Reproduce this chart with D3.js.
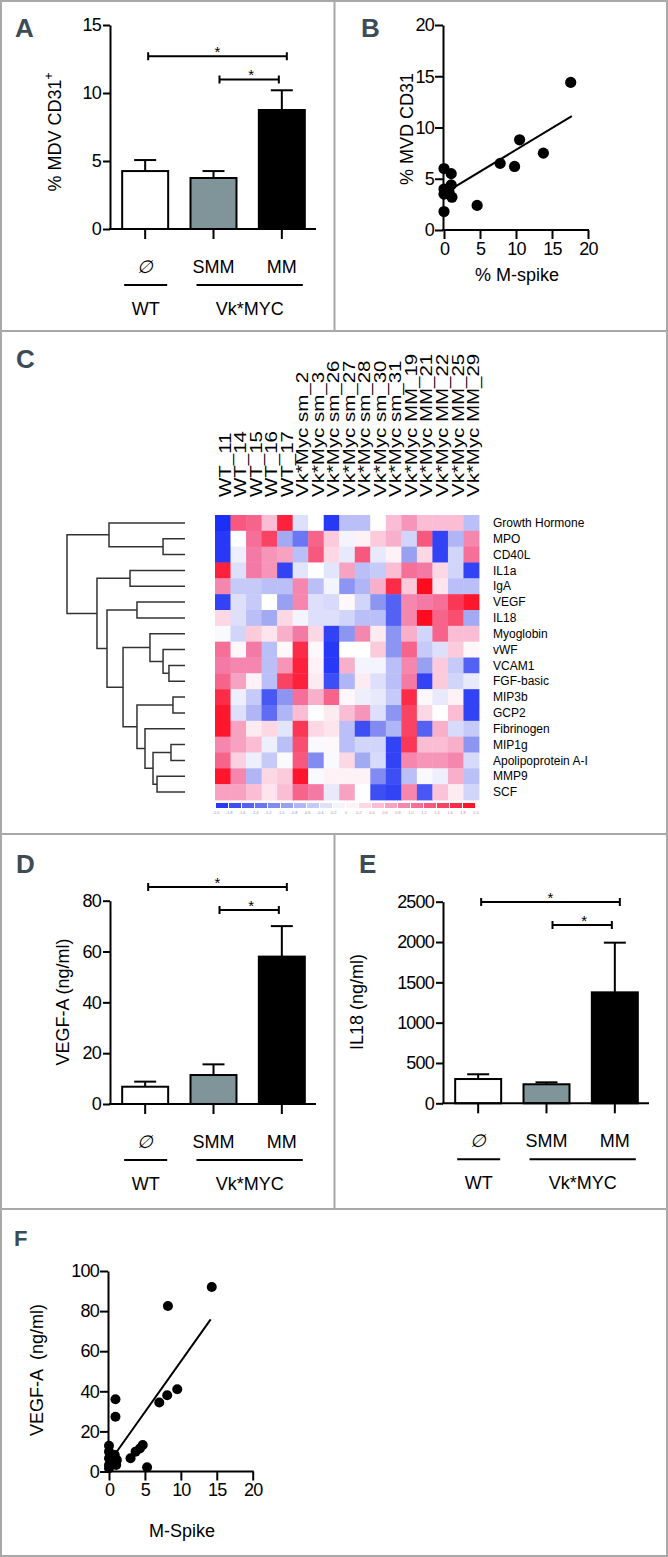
<!DOCTYPE html>
<html><head><meta charset="utf-8">
<script src="https://cdn.jsdelivr.net/npm/d3@7"></script>
<style>body{margin:0;background:#fff}svg{display:block}text{font-family:'Liberation Sans',Arial,Helvetica,sans-serif}</style>
</head><body><svg id="c" width="668" height="1557"></svg>
<script>
// ---------------- DATA ----------------
const groups = ["WT", "SMM", "MM"];
const groupSymbols = ["\u2205", "SMM", "MM"];
const genotypes = ["WT", "Vk*MYC"];
const barFills = ["#ffffff", "#7f9599", "#000000"];

// Panel A: % MDV CD31+
const mvdMean = [4.26, 3.75, 8.75];
const mvdSem  = [0.81, 0.51, 1.45];
const mvdTicks = [0, 5, 10, 15];
const mvdBrackets = [12.7, 11.0];

// Panel B: % M-spike vs % MVD CD31
const bSpike = [0, 0, 0, 0, 1.0, 1.0, 0.7, 1.1, 4.6, 7.8, 9.8, 10.5, 13.8, 17.6];
const bMvd   = [6.0, 4.0, 3.5, 1.8, 5.5, 4.4, 3.7, 3.2, 2.4, 6.5, 6.2, 8.8, 7.5, 14.4];
const bFitX = [1.15, 17.75];
const bFitY = [4.07, 11.1];
const bTicks = [0, 5, 10, 15, 20];

// Panel C: heatmap
const sampleLabels = ["WT_11","WT_14","WT_15","WT_16","WT_17",
  "Vk*Myc sm_2","Vk*Myc sm_3","Vk*Myc sm_26","Vk*Myc sm_27","Vk*Myc sm_28","Vk*Myc sm_30","Vk*Myc sm_31",
  "Vk*Myc MM_19","Vk*Myc MM_21","Vk*Myc MM_22","Vk*Myc MM_25","Vk*Myc MM_29"];
const analyteLabels = ["Growth Hormone","MPO","CD40L","IL1a","IgA","VEGF","IL18","Myoglobin","vWF","VCAM1",
  "FGF-basic","MIP3b","GCP2","Fibrinogen","MIP1g","Apolipoprotein A-I","MMP9","SCF"];
const heatValues = [
  [-2.0, 1.3, 1.2, 0.5, 1.8, -0.3, 0.0, -1.9, -0.6, -0.6, 0.0, 0.5, 0.8, 0.5, 0.5, 0.5, -0.6],
  [-1.9, 0.0, 1.1, 1.5, -0.8, -1.3, 1.2, 0.4, -0.1, 0.1, 0.4, 0.6, -0.4, 1.3, -1.8, -0.7, 0.9],
  [-1.9, -0.15, 1.0, 0.8, 0.7, -0.6, 1.3, 0.3, -0.2, 1.3, -0.2, 0.1, -0.9, 0.3, -1.8, -0.4, 1.1],
  [1.8, -0.3, 1.0, 0.8, -1.8, -0.25, 0.0, -0.25, 0.7, -0.6, -0.5, 0.5, 1.1, 1.0, 0.3, -0.4, -1.8],
  [0.9, -0.5, -0.5, -0.6, -0.6, 0.9, -0.6, -0.1, -1.0, -0.7, 0.6, 1.7, 0.4, 2.0, 0.2, -0.6, -0.6],
  [-1.8, -0.3, -0.5, 0.0, -0.9, 0.9, -0.3, -0.35, 0.05, -0.4, -1.0, -1.5, 0.9, 1.0, 1.1, 1.6, 1.9],
  [0.3, -0.3, -0.6, -0.8, 0.3, -0.1, -0.3, -0.3, -0.4, -0.6, -0.6, -1.5, 0.9, 2.0, 1.2, 1.4, -0.8],
  [-0.05, -0.4, 0.4, 0.2, 0.6, 1.0, 0.3, -1.8, -1.0, 0.9, 0.15, -1.0, 0.6, -0.4, 1.2, 0.5, 0.5],
  [1.1, 0.05, 1.0, -0.6, 0.05, 1.7, 0.05, -1.9, 0.0, 0.0, 0.4, -1.0, 1.2, -0.5, -0.3, 0.4, 0.05],
  [1.0, 0.9, 0.9, -0.6, 0.8, 1.8, 0.1, -1.9, 0.6, -0.1, -0.1, -0.6, 0.9, -0.9, 0.4, -0.5, -1.5],
  [1.2, 0.7, 0.1, -0.6, 1.5, 1.8, 0.15, -1.7, -0.7, 0.15, -0.3, -0.6, 1.0, -1.8, 0.4, -0.4, -0.2],
  [1.7, -0.15, -0.5, -1.6, -1.0, 1.1, 0.6, 1.2, 0.05, -0.15, -0.2, -0.5, 1.7, 0.05, -0.2, 0.1, -1.8],
  [1.9, -0.3, -0.7, -1.4, -0.7, 0.5, 0.0, 0.15, 0.5, 0.8, -0.3, -1.0, 1.5, 0.3, 0.0, 0.5, -1.8],
  [1.9, 0.7, 0.15, 0.3, -0.25, 1.6, 0.3, 0.2, -0.6, -1.7, -1.1, -0.7, 1.5, -1.5, 0.6, -0.35, -0.5],
  [0.9, 0.7, 0.5, -0.15, -0.6, 1.4, -0.05, 0.05, -0.6, -0.4, -0.4, -1.8, 1.6, 0.5, 0.5, 0.6, -1.0],
  [1.2, 0.35, -0.15, -0.5, -0.05, 1.3, -1.1, -0.05, 0.3, -0.8, -0.35, -1.8, 0.9, 0.8, 0.8, 0.9, -0.35],
  [1.9, 0.9, -0.7, 0.3, 0.4, 1.9, -0.05, 0.1, 0.1, 0.1, -1.1, -1.7, -0.6, -0.05, -0.15, 0.6, -0.6],
  [0.7, 0.7, 0.5, 0.2, 0.5, 1.2, 1.0, -0.2, 0.7, 0.0, -1.7, -1.8, 0.9, -1.6, 0.45, 0.15, -0.4]
];
// dendrogram merges: [left, right, height]; strings = leaves, numbers = earlier merge index
const merges = [
  ["MPO", "CD40L", 0.186],
  ["VCAM1", "FGF-basic", 0.136],
  ["vWF", 1, 0.186],
  ["Myoglobin", 2, 0.297],
  ["MIP3b", "GCP2", 0.102],
  ["MIP1g", "Apolipoprotein A-I", 0.119],
  ["MMP9", "SCF", 0.237],
  [5, 6, 0.271],
  ["Fibrinogen", 7, 0.339],
  [4, 8, 0.407],
  [3, 9, 0.525],
  ["VEGF", "IL18", 0.407],
  [11, 10, 0.661],
  ["IL1a", "IgA", 0.466],
  [13, 12, 0.746],
  ["Growth Hormone", 0, 0.644],
  [15, 14, 1.0]
];
const legendTicks = ["-2.0","-1.8","-1.6","-1.4","-1.2","-1.0","-0.8","-0.6","-0.4","-0.2","0",
  "0.2","0.4","0.6","0.8","1.0","1.2","1.4","1.6","1.8","2.0"];

// Panel D: VEGF-A
const vegfMean = [6.8, 11.4, 58.0];
const vegfSem  = [2.0, 4.2, 12.0];
const vegfTicks = [0, 20, 40, 60, 80];
const vegfBrackets = [85.4, 76.3];

// Panel E: IL18
const il18Mean = [301, 236, 1376];
const il18Sem  = [59, 24, 616];
const il18Ticks = [0, 500, 1000, 1500, 2000, 2500];
const il18Brackets = [2496, 2211];

// Panel F: M-Spike vs VEGF-A
const fSpike = [14.3, 8.2, 0.9, 0.9, 7.0, 8.1, 9.5, 0, 0, 0, 0, 0, 0.8, 1.1, 1.0, 3.0, 3.7, 4.3, 4.7, 5.3];
const fVegf  = [92, 82.5, 36, 27.3, 34.4, 38, 41, 12.8, 9.9, 6.6, 3.2, 1.6, 8.2, 5.7, 3.2, 6.6, 9.9, 11.5, 13.2, 2.1];
const fFitX = [0.9, 14.15];
const fFitY = [9.0, 75.9];
const fXTicks = [0, 5, 10, 15, 20];
const fYTicks = [0, 20, 40, 60, 80, 100];

// ---------------- DRAW ----------------
const svg = d3.select("#c");
const BORDER = "#a8a8a8";
const LETTER = "#3c4c57";
const TICKFS = 18, TITLEFS = 18;

svg.append("rect").attr("x", 1).attr("y", 1).attr("width", 666).attr("height", 1555)
  .attr("fill", "none").attr("stroke", BORDER).attr("stroke-width", 2);
[[0, 331, 668, 331], [0, 834, 668, 834], [0, 1209, 668, 1209], [334.5, 0, 334.5, 331], [334.5, 834, 334.5, 1209]]
  .forEach(l => svg.append("line").attr("x1", l[0]).attr("y1", l[1]).attr("x2", l[2]).attr("y2", l[3])
    .attr("stroke", BORDER).attr("stroke-width", 2));

function letter(t, x, y, fs) {
  svg.append("text").attr("x", x).attr("y", y).text(t).attr("font-size", fs)
    .attr("font-weight", "bold").attr("fill", LETTER);
}
letter("A", 15, 37, 26); letter("B", 361, 37, 26); letter("C", 16, 368, 26);
letter("D", 16, 873, 26); letter("E", 359, 873, 26); letter("F", 14, 1246, 22);

function styleAxis(g, fs) {
  g.select(".domain").attr("stroke", "#000").attr("stroke-width", 2);
  g.selectAll(".tick line").attr("stroke", "#000").attr("stroke-width", 2);
  g.selectAll(".tick text").attr("font-size", fs).attr("fill", "#000")
    .attr("font-family", "'Liberation Sans',Arial,sans-serif").attr("letter-spacing", "-0.8px");
}

function yTitle(x, y, fs, build) {
  const t = svg.append("text").attr("transform", `translate(${x},${y}) rotate(-90)`)
    .attr("text-anchor", "middle").attr("dy", "0.35em").attr("font-size", fs).attr("fill", "#000");
  build(t);
}

function barChart(o) {
  const g = svg.append("g");
  const x = d3.scaleBand().domain(groups).range([o.xr0, o.xr1]).paddingInner(0.327).paddingOuter(0.1635);
  const y = d3.scaleLinear().domain([0, o.max]).range([o.yb, o.yt]);
  const cx = d => x(d) + x.bandwidth() / 2;
  groups.forEach((gname, i) => {
    const c = cx(gname), top = y(o.means[i] + o.sems[i]);
    g.append("line").attr("x1", c).attr("x2", c).attr("y1", y(o.means[i])).attr("y2", top)
      .attr("stroke", "#000").attr("stroke-width", 2);
    g.append("line").attr("x1", c - 11).attr("x2", c + 11).attr("y1", top).attr("y2", top)
      .attr("stroke", "#000").attr("stroke-width", 2);
  });
  g.selectAll("rect.bar").data(groups).join("rect").attr("class", "bar")
    .attr("x", d => x(d)).attr("width", x.bandwidth())
    .attr("y", (d, i) => y(o.means[i])).attr("height", (d, i) => y(0) - y(o.means[i]))
    .attr("fill", (d, i) => barFills[i]).attr("stroke", "#000").attr("stroke-width", 2);
  const ya = g.append("g").attr("transform", `translate(${o.xr0 - 1},0)`)
    .call(d3.axisLeft(y).tickValues(o.ticks).tickFormat(d3.format("d")).tickSize(7).tickPadding(2).tickSizeOuter(0));
  styleAxis(ya, TICKFS);
  const xa = g.append("g").attr("transform", `translate(0,${o.yb})`)
    .call(d3.axisBottom(x).tickSize(10).tickFormat("").tickSizeOuter(0));
  styleAxis(xa, TICKFS);
  xa.select(".domain").attr("d", `M${o.xr0 - 2},0H${o.xr1}`);
  const br = [[cx("WT") + 3, cx("MM") + 5], [cx("SMM") + 6, cx("MM") - 3]];
  o.brackets.forEach((v, i) => {
    const yy = y(v), [a, b] = br[i];
    g.append("path").attr("d", `M${a},${yy - 4}V${yy + 4}M${a},${yy}H${b}M${b},${yy - 4}V${yy + 4}`)
      .attr("stroke", "#000").attr("stroke-width", 2).attr("fill", "none");
    g.append("text").attr("x", (a + b) / 2 + (i ? 2 : 0)).attr("y", yy + 1).attr("text-anchor", "middle")
      .attr("font-size", 15).text("*");
  });
  groups.forEach((gname, i) => {
    g.append("text").attr("x", cx(gname)).attr("y", o.yb + 44).attr("text-anchor", "middle")
      .attr("font-size", 18).attr("font-style", i === 0 ? "italic" : "normal").text(groupSymbols[i]);
  });
  const ul = [[cx("WT") - 21, cx("WT") + 22], [cx("SMM") - 17, cx("MM") + 21]];
  ul.forEach((u, i) => {
    g.append("line").attr("x1", u[0]).attr("x2", u[1]).attr("y1", o.yb + 56).attr("y2", o.yb + 56)
      .attr("stroke", "#000").attr("stroke-width", 2);
    g.append("text").attr("x", (u[0] + u[1]) / 2).attr("y", o.yb + 86).attr("text-anchor", "middle")
      .attr("font-size", 18).text(genotypes[i]);
  });
}

barChart({xr0: 111, xr1: 316, yb: 229, yt: 25, max: 15, ticks: mvdTicks, means: mvdMean, sems: mvdSem, brackets: mvdBrackets});
yTitle(55, 132, TITLEFS, t => { t.append("tspan").text("% MDV CD31"); t.append("tspan").attr("font-size", 12).attr("dy", "-0.7em").text("+"); });

barChart({xr0: 111, xr1: 316, yb: 1104, yt: 900.7, max: 80, ticks: vegfTicks, means: vegfMean, sems: vegfSem, brackets: vegfBrackets});
yTitle(63, 1002, TITLEFS, t => t.text("VEGF-A (ng/ml)"));

barChart({xr0: 444, xr1: 649, yb: 1103.3, yt: 901.7, max: 2500, ticks: il18Ticks, means: il18Mean, sems: il18Sem, brackets: il18Brackets});
yTitle(357, 1002, TITLEFS, t => t.text("IL18 (ng/ml)"));

function scatter(o) {
  const g = svg.append("g");
  const x = d3.scaleLinear().domain([0, 20]).range([o.x0, o.x1]);
  const y = d3.scaleLinear().domain([0, o.ymax]).range([o.yb, o.yt]);
  const ya = g.append("g").attr("transform", `translate(${o.x0 - 1},0)`)
    .call(d3.axisLeft(y).tickValues(o.yticks).tickSize(8).tickPadding(1).tickSizeOuter(0));
  styleAxis(ya, TICKFS);
  const xa = g.append("g").attr("transform", `translate(0,${o.yb})`)
    .call(d3.axisBottom(x).tickValues(o.xticks).tickSize(9).tickPadding(3).tickSizeOuter(0));
  styleAxis(xa, TICKFS);
  xa.select(".domain").attr("d", `M${o.x0 - 2},0H${o.x1 + 1}`);
  g.append("line").attr("x1", x(o.fx[0])).attr("x2", x(o.fx[1])).attr("y1", y(o.fy[0])).attr("y2", y(o.fy[1]))
    .attr("stroke", "#000").attr("stroke-width", 2);
  g.selectAll("circle").data(o.xs).join("circle").attr("cx", d => x(d)).attr("cy", (d, i) => y(o.ys[i]))
    .attr("r", o.r).attr("fill", "#000");
}

scatter({x0: 444, x1: 588, yb: 230, yt: 25, ymax: 20, xticks: bTicks, yticks: bTicks, xs: bSpike, ys: bMvd, fx: bFitX, fy: bFitY, r: 5.6});
svg.append("text").attr("x", 517).attr("y", 281).attr("text-anchor", "middle").attr("font-size", TITLEFS).text("% M-spike");
yTitle(407, 129, TITLEFS, t => t.text("% MVD CD31"));

scatter({x0: 109, x1: 252.7, yb: 1471.5, yt: 1271, ymax: 100, xticks: fXTicks, yticks: fYTicks, xs: fSpike, ys: fVegf, fx: fFitX, fy: fFitY, r: 5});
svg.append("text").attr("x", 182).attr("y", 1537).attr("text-anchor", "middle").attr("font-size", 18).text("M-Spike");
yTitle(37, 1370, TITLEFS, t => t.style("white-space", "pre").text("VEGF-A  (ng/ml)"));

// ---- heatmap ----
const hx = d3.scaleBand().domain(sampleLabels).range([215, 479]);
const hy = d3.scaleBand().domain(analyteLabels).range([515, 800]);
const color = d3.scaleLinear().domain([-2, -1, 0, 1, 2])
  .range(["#1c2ff6", "#8c95f1", "#ffffff", "#f47aa6", "#ff0b20"]).clamp(true);
const hm = svg.append("g");
heatValues.forEach((row, r) => {
  hm.selectAll(null).data(row).join("rect")
    .attr("x", (d, c) => hx(sampleLabels[c])).attr("y", hy(analyteLabels[r]))
    .attr("width", hx.bandwidth() + 0.4).attr("height", hy.bandwidth() + 0.4)
    .attr("fill", d => color(d));
});
hm.selectAll("text.col").data(sampleLabels).join("text").attr("class", "col")
  .attr("transform", d => `translate(${hx(d) + hx.bandwidth() / 2 + 7.8},497) rotate(-90) scale(1.28,1)`)
  .attr("font-size", 16).attr("fill", "#000").text(d => d);
hm.selectAll("text.row").data(analyteLabels).join("text").attr("class", "row")
  .attr("x", 493).attr("y", d => hy(d) + hy.bandwidth() / 2).attr("dy", "0.35em")
  .attr("font-size", 12).attr("fill", "#000").text(d => d);

// dendrogram
const dx = d3.scaleLinear().domain([0, 1]).range([185, 67]);
const nodes = [];
const pos = ref => typeof ref === "string"
  ? {x: dx(0), y: hy(ref) + hy.bandwidth() / 2}
  : nodes[ref];
merges.forEach(m => {
  const a = pos(m[0]), b = pos(m[1]), nx = dx(m[2]);
  nodes.push({x: nx, y: (a.y + b.y) / 2});
  hm.append("path").attr("d", `M${a.x},${a.y}H${nx}V${b.y}H${b.x}`)
    .attr("fill", "none").attr("stroke", "#333").attr("stroke-width", 1.5);
});

// color legend
const lx = d3.scalePoint().domain(legendTicks).range([216, 476]);
const segW = lx.step();
legendTicks.slice(0, -1).forEach((t, i) => {
  const mid = (+legendTicks[i] + +legendTicks[i + 1]) / 2;
  hm.append("rect").attr("x", lx(t)).attr("y", 803).attr("width", segW - 1).attr("height", 5)
    .attr("fill", color(mid));
});
hm.selectAll("text.leg").data(legendTicks).join("text").attr("class", "leg")
  .attr("x", d => lx(d)).attr("y", 814).attr("text-anchor", "middle").attr("font-size", 4)
  .attr("fill", d => +d < 0 ? "#8c96c8" : "#d08aa6").text(d => d);
</script>
</body></html>
